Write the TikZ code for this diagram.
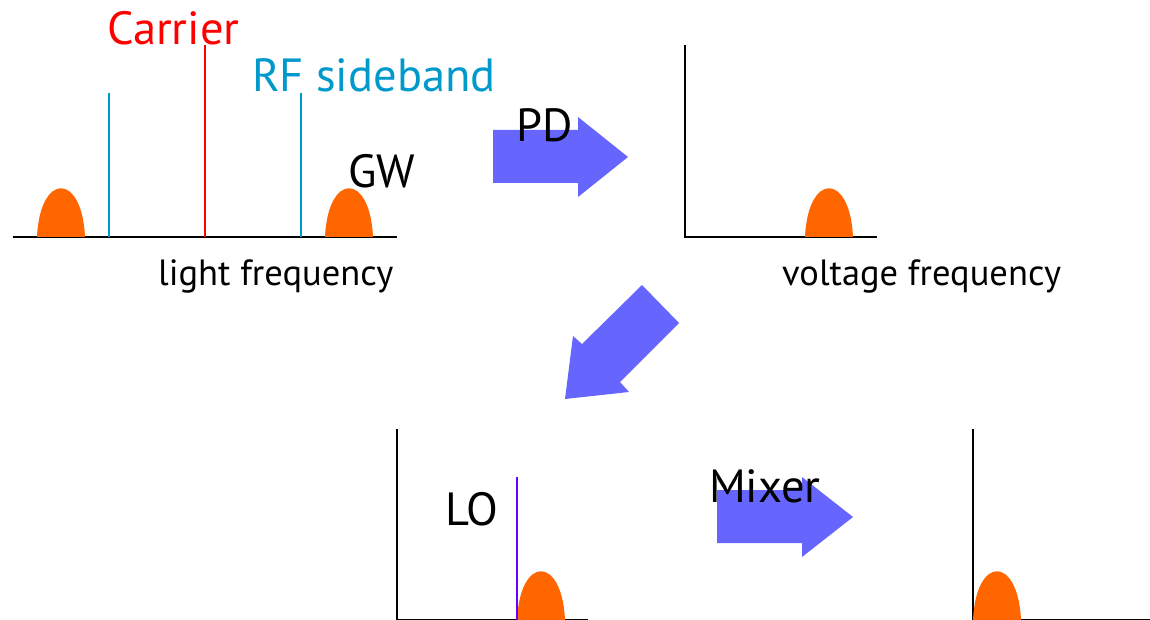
\documentclass[tikz,border=0pt]{standalone}
\usepackage{fontspec}
\setmainfont{PT Sans}
\usetikzlibrary{positioning}
\definecolor{crd}  {RGB}{255,  0,  0}
\definecolor{sbl}  {RGB}{  0,153,204}
\definecolor{gorng}{RGB}{255,102,  0}
\definecolor{parr} {RGB}{102,102,255}
\definecolor{lopur}{RGB}{102,  0,255}
\tikzset{
  % axes of each spectrum
  Ax/.style={line width=2pt,color=black},
  % spectral lines
  SL/.style={line width=2.2pt,color=#1},
  % big labels
  Lbl/.style={inner sep=0pt,anchor=base west,font=\fontsize{46.5}{50}\selectfont},
  Cap/.style={inner sep=0pt,anchor=base west,font=\fontsize{36.5}{42}\selectfont},
  % block arrows
  BArr/.style={fill=parr,draw=none},
  % GW signal bump
  gwbump/.pic={\fill[gorng] (-24,0) .. controls (-21,-65) and (21,-65) .. (24,0) -- cycle;},
}
\begin{document}
\begin{tikzpicture}[x=1pt,y=-1pt]
  \useasboundingbox (0,0) rectangle (1150,620);
  % light spectrum
  \draw[Ax] (13,237) -- (397,237);
  \pic at (61,237) {gwbump};
  \pic at (349,237) {gwbump};
  \draw[SL=sbl] (109,237) -- (109,93);
  \draw[SL=crd] (205,237) -- (205,45);
  \draw[SL=sbl] (301,237) -- (301,93);
  \node[Lbl,text=crd] (car) at (107,45) {Carrier};
  \node[Lbl,text=sbl] (rfs) at (252,92) {RF sideband};
  \node[Lbl] (gw) at (348,188) {GW};
  \node[Cap] (lf) at (158,285) {light frequency};
  % photodetector
  \fill[BArr] (493,130) -- (578,130) -- (578,117) -- (628,157)
              -- (578,197) -- (578,183) -- (493,183) -- cycle;
  \node[Lbl] (pd) at (516,142) {PD};
  % voltage spectrum
  \draw[Ax] (685,45) -- (685,237) -- (877,237);
  \pic at (829,237) {gwbump};
  \node[Cap] (vf) at (782,285) {voltage frequency};
  % down to the mixer stage
  \fill[BArr] (642,285) -- (679,323) -- (620,382) -- (629,392)
              -- (565,399) -- (573,336) -- (582,344) -- cycle;
  % LO stage
  \draw[Ax] (397,429) -- (397,620) -- (588,620);
  \pic at (541,620) {gwbump};
  \draw[SL=lopur] (517,620) -- (517,477);
  \node[Lbl] (lo) at (445,525) {LO};
  % mixer
  \fill[BArr] (717,490) -- (802,490) -- (802,477) -- (853,517)
              -- (802,557) -- (802,543) -- (717,543) -- cycle;
  \node[Lbl] (mix) at (709,502) {Mixer};
  % baseband
  \draw[Ax] (973,429) -- (973,620) -- (1150,620);
  \pic at (997,620) {gwbump};
\end{tikzpicture}
\end{document}
